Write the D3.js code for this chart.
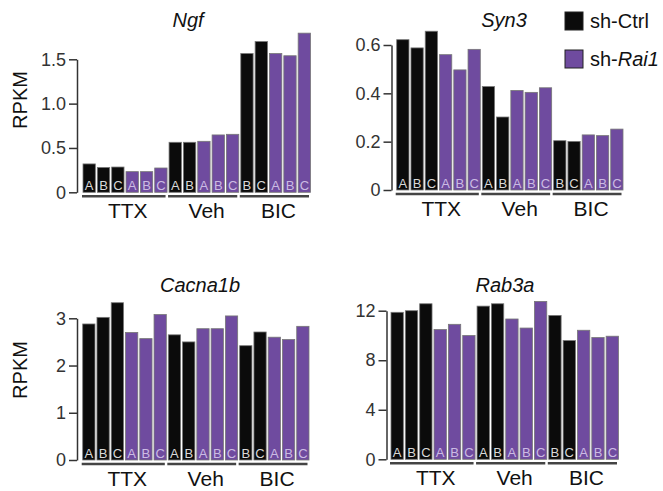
<!DOCTYPE html>
<html>
<head>
<meta charset="utf-8">
<script src="https://cdn.jsdelivr.net/npm/d3@7"></script>
<style>
  html, body { margin: 0; padding: 0; background: #fff; }
  svg { display: block; font-family: "Liberation Sans", Arial, sans-serif; }
</style>
</head>
<body>
<div id="chart"></div>
<script>
// samples, left to right in every panel
const sampleGroup = ["TTX","TTX","TTX","TTX","TTX","TTX","Veh","Veh","Veh","Veh","Veh","BIC","BIC","BIC","BIC","BIC"];
const sampleCond = ["ctrl","ctrl","ctrl","rai1","rai1","rai1","ctrl","ctrl","rai1","rai1","rai1","ctrl","ctrl","rai1","rai1","rai1"];
const sampleRep = ["A","B","C","A","B","C","A","B","A","B","C","B","C","A","B","C"];
const groups = ["TTX", "Veh", "BIC"];

// RPKM values
const ngf = [0.32, 0.28, 0.285, 0.233, 0.233, 0.274, 0.564, 0.564, 0.575, 0.647, 0.654, 1.565, 1.70, 1.565, 1.54, 1.795];
const syn3 = [0.622, 0.588, 0.657, 0.560, 0.497, 0.582, 0.428, 0.302, 0.412, 0.404, 0.423, 0.204, 0.201, 0.228, 0.225, 0.252];
const cacna1b = [2.88, 3.02, 3.33, 2.70, 2.57, 3.08, 2.65, 2.50, 2.78, 2.78, 3.05, 2.42, 2.71, 2.60, 2.55, 2.83];
const rab3a = [11.87, 12.0, 12.56, 10.48, 10.9, 10.0, 12.37, 12.56, 11.33, 10.6, 12.75, 11.62, 9.59, 10.42, 9.83, 9.94];

const ngfTicks = [0, 0.5, 1.0, 1.5];
const ngfTickLabels = ["0", "0.5", "1.0", "1.5"];
const syn3Ticks = [0, 0.2, 0.4, 0.6];
const syn3TickLabels = ["0", "0.2", "0.4", "0.6"];
const cacnaTicks = [0, 1, 2, 3];
const cacnaTickLabels = ["0", "1", "2", "3"];
const rabTicks = [0, 4, 8, 12];
const rabTickLabels = ["0", "4", "8", "12"];

const condNames = ["ctrl", "rai1"];

const width = 663, height = 491;
const barFill = d3.scaleOrdinal().domain(condNames).range(["#0b0b0b", "#6f4b9f"]);
const letterFill = d3.scaleOrdinal().domain(condNames).range(["#d9d9d9", "#cbbbe3"]);

const panels = [
  { title: "Ngf", values: ngf, ticks: ngfTicks, labels: ngfTickLabels,
    axisX: 77, x0: 83, x1: 310.5, y0: 192.3, yTop: 59.3, titleX: 188, titleY: 27, ylabY: 100 },
  { title: "Syn3", values: syn3, ticks: syn3Ticks, labels: syn3TickLabels,
    axisX: 391.5, x0: 396.7, x1: 623, y0: 190, yTop: 45, titleX: 504, titleY: 27, ylabY: null },
  { title: "Cacna1b", values: cacna1b, ticks: cacnaTicks, labels: cacnaTickLabels,
    axisX: 77, x0: 82.7, x1: 309, y0: 460, yTop: 318.3, titleX: 200, titleY: 292, ylabY: 370 },
  { title: "Rab3a", values: rab3a, ticks: rabTicks, labels: rabTickLabels,
    axisX: 386.5, x0: 391, x1: 618.5, y0: 459.3, yTop: 310.7, titleX: 505, titleY: 292, ylabY: null }
];

const svg = d3.select("#chart").append("svg")
  .attr("width", width)
  .attr("height", height);

panels.forEach(p => {
  const g = svg.append("g");
  const idx = d3.range(p.values.length);

  const x = d3.scaleBand()
    .domain(idx)
    .range([p.x0, p.x1])
    .paddingInner(0.14)
    .paddingOuter(0);

  const y = d3.scaleLinear()
    .domain([0, d3.max(p.ticks)])
    .range([p.y0, p.yTop]);

  // y axis, only spanning the ticks
  const yAxis = d3.axisLeft(y)
    .tickValues(p.ticks)
    .tickFormat((d, i) => p.labels[i])
    .tickSizeInner(8)
    .tickSizeOuter(0)
    .tickPadding(3);

  const ax = g.append("g")
    .attr("transform", `translate(${p.axisX},0)`)
    .call(yAxis);
  ax.select(".domain").attr("stroke", "#333").attr("stroke-width", 1.5);
  ax.selectAll(".tick line").attr("stroke", "#333").attr("stroke-width", 1.5);
  ax.selectAll(".tick text")
    .attr("fill", "#333")
    .style("font-size", "18px")
    .style("font-family", "'Liberation Sans', Arial, sans-serif");

  // bars
  g.selectAll("rect.bar")
    .data(idx)
    .enter()
    .append("rect")
    .attr("class", "bar")
    .attr("x", i => x(i))
    .attr("y", i => y(p.values[i]))
    .attr("width", x.bandwidth())
    .attr("height", i => y(0) - y(p.values[i]))
    .attr("fill", i => barFill(sampleCond[i]))
    .attr("stroke", "#777")
    .attr("stroke-width", 0.8);

  // replicate letters
  g.selectAll("text.rep")
    .data(idx)
    .enter()
    .append("text")
    .attr("class", "rep")
    .attr("x", i => x(i) + x.bandwidth() / 2)
    .attr("y", y(0) - 2)
    .attr("text-anchor", "middle")
    .attr("fill", i => letterFill(sampleCond[i]))
    .style("font-size", "13px")
    .text(i => sampleRep[i]);

  // group underline + label
  groups.forEach(gr => {
    const members = idx.filter(i => sampleGroup[i] === gr);
    const gx0 = x(members[0]) - 1;
    const gx1 = x(members[members.length - 1]) + x.bandwidth() - 1.5;
    g.append("line")
      .attr("x1", gx0).attr("x2", gx1)
      .attr("y1", p.y0 + 4).attr("y2", p.y0 + 4)
      .attr("stroke", "#444")
      .attr("stroke-width", 2.5);
    g.append("text")
      .attr("x", (gx0 + gx1) / 2 + 4)
      .attr("y", p.y0 + 26)
      .attr("text-anchor", "middle")
      .attr("fill", "#111")
      .style("font-size", "21px")
      .text(gr);
  });

  // title
  g.append("text")
    .attr("x", p.titleX)
    .attr("y", p.titleY)
    .attr("text-anchor", "middle")
    .attr("fill", "#111")
    .style("font-size", "20px")
    .style("font-style", "italic")
    .text(p.title);

  if (p.ylabY !== null) {
    g.append("text")
      .attr("transform", `translate(27,${p.ylabY}) rotate(-90)`)
      .attr("text-anchor", "middle")
      .attr("fill", "#111")
      .style("font-size", "20px")
      .text("RPKM");
  }
});

// legend
const legend = svg.append("g").attr("transform", "translate(565,12)");
const legendRows = legend.selectAll("g")
  .data(condNames)
  .enter()
  .append("g")
  .attr("transform", (d, i) => `translate(0,${i * 38})`);

legendRows.append("rect")
  .attr("width", 18)
  .attr("height", 18)
  .attr("fill", d => barFill(d))
  .attr("stroke", "#222")
  .attr("stroke-width", 1);

legendRows.append("text")
  .attr("x", 25)
  .attr("y", 16)
  .attr("fill", "#111")
  .style("font-size", "20px")
  .each(function(d) {
    const t = d3.select(this);
    t.append("tspan").text("sh-");
    t.append("tspan")
      .style("font-style", d === "rai1" ? "italic" : "normal")
      .text(d === "rai1" ? "Rai1" : "Ctrl");
  });
</script>
</body>
</html>
